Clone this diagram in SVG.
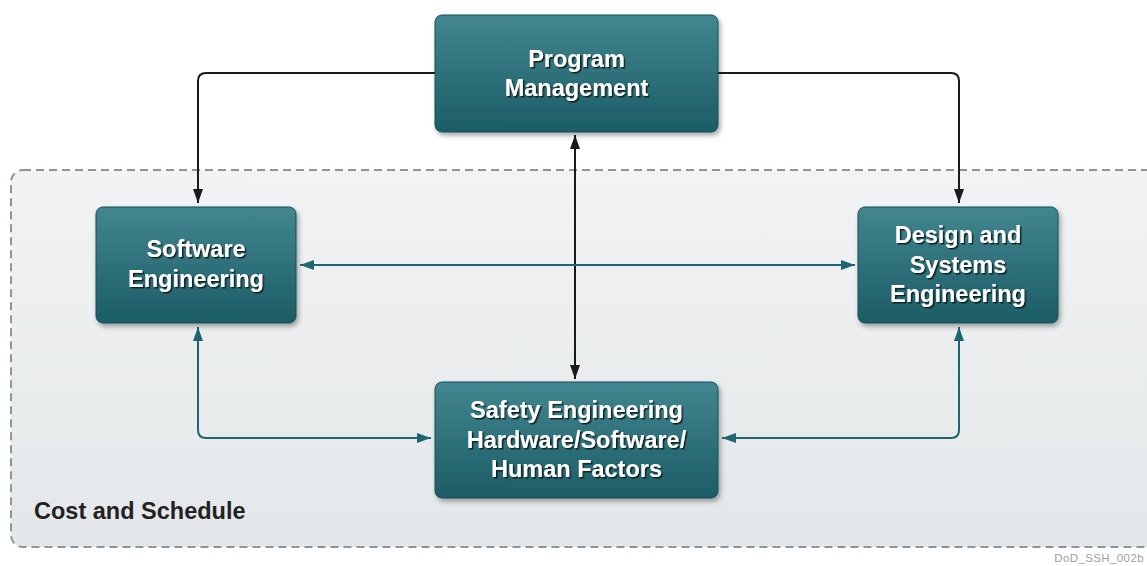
<svg xmlns="http://www.w3.org/2000/svg" width="1147" height="566" viewBox="0 0 1147 566">
<defs>
<linearGradient id="boxg" x1="0" y1="0" x2="0" y2="1">
<stop offset="0" stop-color="#428690"/>
<stop offset="1" stop-color="#1c5c66"/>
</linearGradient>
<linearGradient id="bgg" x1="0" y1="0" x2="0" y2="1">
<stop offset="0" stop-color="#f1f3f4"/>
<stop offset="1" stop-color="#e4e7e9"/>
</linearGradient>
<filter id="sh" x="-10%" y="-10%" width="125%" height="130%">
<feDropShadow dx="2" dy="3" stdDeviation="2.5" flood-color="#000" flood-opacity="0.35"/>
</filter>
<filter id="ts" x="-5%" y="-20%" width="110%" height="140%">
<feDropShadow dx="1.5" dy="1.5" stdDeviation="0.5" flood-color="#0a1a1c" flood-opacity="0.95"/>
</filter>
<marker id="ab" viewBox="0 0 14 10" refX="14" refY="5" markerWidth="14" markerHeight="10" orient="auto-start-reverse" markerUnits="userSpaceOnUse">
<path d="M0,0 L14,5 L0,10 z" fill="#1a1a1a"/>
</marker>
<marker id="at" viewBox="0 0 14 10" refX="14" refY="5" markerWidth="14" markerHeight="10" orient="auto-start-reverse" markerUnits="userSpaceOnUse">
<path d="M0,0 L14,5 L0,10 z" fill="#1d6570"/>
</marker>
</defs>
<style>
.box{fill:url(#boxg);stroke:#174f57;stroke-width:1;filter:url(#sh)}
.lbl{font-family:"Liberation Sans",Arial,sans-serif;font-weight:bold;font-size:23.5px;fill:#ffffff;text-anchor:middle;filter:url(#ts)}
.blk{fill:none;stroke:#1a1a1a;stroke-width:2}
.tl{fill:none;stroke:#1d6570;stroke-width:2}
</style>
<rect width="1147" height="566" fill="#ffffff"/>
<g id="cost-schedule">
<rect x="11" y="170" width="1150" height="377" rx="12" ry="12" fill="url(#bgg)" stroke="#8c9598" stroke-width="2" stroke-dasharray="8,5"/>
<text x="34" y="519" font-family="'Liberation Sans',Arial,sans-serif" font-weight="bold" font-size="23.5" fill="#222222">Cost and Schedule</text>
</g>
<g id="connectors">
<path class="blk" d="M435,73 H206 Q198,73 198,81 V203" marker-end="url(#ab)"/>
<path class="blk" d="M718,73 H951 Q959,73 959,81 V203" marker-end="url(#ab)"/>
<path class="blk" d="M575,135 V379" marker-start="url(#ab)" marker-end="url(#ab)"/>
<path class="tl" d="M300,265 H855" marker-start="url(#at)" marker-end="url(#at)"/>
<path class="tl" d="M198,327 V430 Q198,438 206,438 H431" marker-start="url(#at)" marker-end="url(#at)"/>
<path class="tl" d="M959,327 V430 Q959,438 951,438 H722" marker-start="url(#at)" marker-end="url(#at)"/>
</g>
<g id="program-management">
<rect class="box" x="435" y="15" width="283" height="117" rx="7"/>
<text class="lbl" x="576.5" y="67">Program</text>
<text class="lbl" x="576.5" y="96">Management</text>
</g>
<g id="software-engineering">
<rect class="box" x="96" y="207" width="200" height="116" rx="7"/>
<text class="lbl" x="196" y="257">Software</text>
<text class="lbl" x="196" y="287">Engineering</text>
</g>
<g id="design-systems-engineering">
<rect class="box" x="858" y="207" width="200" height="116" rx="7"/>
<text class="lbl" x="958" y="243">Design and</text>
<text class="lbl" x="958" y="273">Systems</text>
<text class="lbl" x="958" y="302">Engineering</text>
</g>
<g id="safety-engineering">
<rect class="box" x="435" y="382" width="283" height="116" rx="7"/>
<text class="lbl" x="576.5" y="418">Safety Engineering</text>
<text class="lbl" x="576.5" y="448">Hardware/Software/</text>
<text class="lbl" x="576.5" y="477">Human Factors</text>
</g>
<text x="1144" y="562" text-anchor="end" font-family="'Liberation Sans',Arial,sans-serif" font-size="11.5" fill="#9aa1a4" letter-spacing="0.4">DoD_SSH_002b</text>
</svg>
